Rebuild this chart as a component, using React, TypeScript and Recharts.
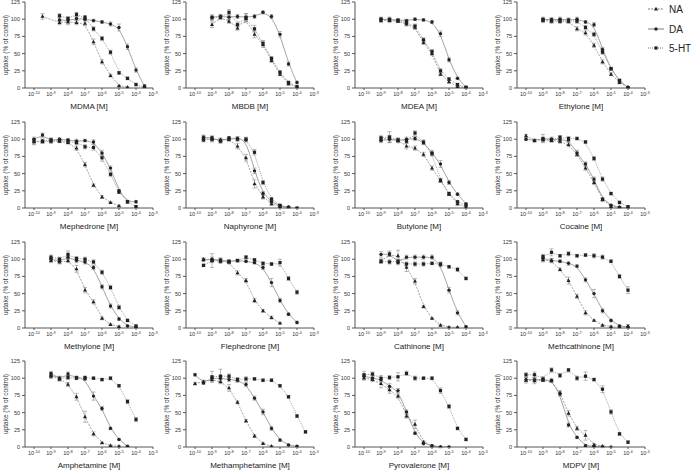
import React from 'react';
import { LineChart, Line, XAxis, YAxis, ErrorBar, Label } from 'recharts';

// [log10 concentration (M), uptake (% of control), SEM]
type Pt = [number, number, number];

const drugNames = [
  'MDMA', 'MBDB', 'MDEA', 'Ethylone',
  'Mephedrone', 'Naphyrone', 'Butylone', 'Cocaine',
  'Methylone', 'Flephedrone', 'Cathinone', 'Methcathinone',
  'Amphetamine', 'Methamphetamine', 'Pyrovalerone', 'MDPV',
];
const xTicks = [-10, -9, -8, -7, -6, -5, -4, -3];
const yTicks = [0, 25, 50, 75, 100, 125];
const seriesNames = ['NA', 'DA', '5-HT'];

const mdmaNA: Pt[] = [[-9.5, 104, 4], [-8.5, 95, 3], [-8, 96, 4], [-7.5, 95, 3], [-7, 94, 3], [-6.5, 67, 4], [-6, 38, 3], [-5.5, 18, 2], [-5, 3, 1], [-4.5, 1, 1]];
const mdmaDA: Pt[] = [[-8.5, 99, 3], [-8, 98, 4], [-7.5, 101, 3], [-7, 100, 2], [-6.5, 98, 2], [-6, 96, 2], [-5.5, 93, 3], [-5, 88, 5], [-4.5, 60, 4], [-4, 26, 3], [-3.5, 3, 2]];
const mdmaHT: Pt[] = [[-8.5, 105, 3], [-8, 101, 3], [-7.5, 107, 3], [-7, 103, 2], [-6.5, 86, 3], [-6, 72, 3], [-5.5, 52, 3], [-5, 22, 2], [-4.5, 14, 2], [-4, 5, 2], [-3.5, 1, 1]];

const mbdbNA: Pt[] = [[-9, 92, 4], [-8.5, 103, 3], [-8, 97, 3], [-7.5, 87, 3], [-7, 101, 4], [-6.5, 78, 5], [-6, 63, 4], [-5.5, 40, 3], [-5, 20, 2], [-4.5, 6, 2], [-4, 1, 1]];
const mbdbDA: Pt[] = [[-9, 103, 3], [-8.5, 104, 3], [-8, 103, 4], [-7.5, 104, 3], [-7, 103, 5], [-6.5, 104, 3], [-6, 110, 2], [-5.5, 104, 3], [-5, 78, 4], [-4.5, 35, 3], [-4, 8, 2]];
const mbdbHT: Pt[] = [[-9, 102, 4], [-8.5, 103, 3], [-8, 110, 4], [-7.5, 92, 3], [-7, 102, 6], [-6.5, 86, 5], [-6, 65, 4], [-5.5, 43, 3], [-5, 23, 2], [-4.5, 8, 2], [-4, 2, 1]];

const mdeaNA: Pt[] = [[-9, 98, 3], [-8.5, 98, 3], [-8, 97, 2], [-7.5, 93, 3], [-7, 88, 3], [-6.5, 66, 3], [-6, 50, 3], [-5.5, 20, 2], [-5, 9, 2], [-4.5, 2, 1], [-4, 0, 1]];
const mdeaDA: Pt[] = [[-9, 100, 2], [-8.5, 99, 2], [-8, 99, 2], [-7.5, 98, 2], [-7, 100, 2], [-6.5, 99, 2], [-6, 96, 2], [-5.5, 79, 4], [-5, 41, 3], [-4.5, 14, 2], [-4, 1, 1]];
const mdeaHT: Pt[] = [[-9, 100, 3], [-8.5, 100, 3], [-8, 98, 2], [-7.5, 95, 3], [-7, 90, 3], [-6.5, 70, 3], [-6, 53, 3], [-5.5, 25, 3], [-5, 13, 2], [-4.5, 5, 2], [-4, 1, 1]];

const ethNA: Pt[] = [[-9, 98, 3], [-8.5, 97, 3], [-8, 97, 3], [-7.5, 97, 3], [-7, 86, 3], [-6.5, 80, 3], [-6, 62, 3], [-5.5, 38, 3], [-5, 20, 2], [-4.5, 8, 2], [-4, 1, 1]];
const ethDA: Pt[] = [[-9, 100, 3], [-8.5, 99, 3], [-8, 100, 3], [-7.5, 99, 3], [-7, 100, 3], [-6.5, 96, 2], [-6, 92, 3], [-5.5, 56, 3], [-5, 28, 2], [-4.5, 10, 2], [-4, 1, 1]];
const ethHT: Pt[] = [[-9, 99, 3], [-8.5, 99, 3], [-8, 98, 3], [-7.5, 98, 3], [-7, 97, 3], [-6.5, 88, 3], [-6, 78, 3], [-5.5, 52, 3], [-5, 28, 2], [-4.5, 11, 2], [-4, 0, 1]];

const mephNA: Pt[] = [[-10, 96, 4], [-9.5, 97, 3], [-9, 97, 3], [-8.5, 97, 2], [-8, 95, 2], [-7.5, 87, 3], [-7, 63, 3], [-6.5, 33, 2], [-6, 16, 2], [-5.5, 8, 1], [-5, 3, 1]];
const mephDA: Pt[] = [[-10, 100, 3], [-9.5, 106, 3], [-9, 98, 3], [-8.5, 100, 2], [-8, 99, 2], [-7.5, 97, 3], [-7, 98, 2], [-6.5, 96, 3], [-6, 80, 4], [-5.5, 58, 3], [-5, 25, 2], [-4.5, 9, 2], [-4, 9, 2]];
const mephHT: Pt[] = [[-10, 97, 4], [-9.5, 97, 3], [-9, 99, 3], [-8.5, 98, 2], [-8, 97, 2], [-7.5, 95, 3], [-7, 89, 3], [-6.5, 88, 4], [-6, 73, 5], [-5.5, 49, 3], [-5, 23, 2], [-4.5, 9, 2], [-4, 2, 1]];

const naphNA: Pt[] = [[-9.5, 101, 4], [-9, 100, 4], [-8.5, 99, 3], [-8, 100, 3], [-7.5, 90, 4], [-7, 73, 5], [-6.5, 35, 6], [-6, 16, 3], [-5.5, 6, 2], [-5, 2, 1], [-4.5, 1, 1]];
const naphDA: Pt[] = [[-9.5, 103, 3], [-9, 102, 3], [-8.5, 97, 3], [-8, 102, 2], [-7.5, 101, 3], [-7, 99, 3], [-6.5, 54, 4], [-6, 21, 3], [-5.5, 9, 2], [-5, 3, 1], [-4.5, 1, 1]];
const naphHT: Pt[] = [[-9.5, 99, 3], [-9, 100, 3], [-8.5, 98, 3], [-8, 100, 2], [-7.5, 100, 3], [-7, 100, 3], [-6.5, 81, 4], [-6, 37, 3], [-5.5, 13, 2], [-5, 4, 1], [-4.5, 1, 1], [-4, 0, 1]];

const butNA: Pt[] = [[-9, 100, 3], [-8.5, 101, 4], [-8, 98, 3], [-7.5, 90, 4], [-7, 87, 3], [-6.5, 78, 3], [-6, 58, 3], [-5.5, 40, 3], [-5, 20, 2], [-4.5, 6, 2], [-4, 1, 1]];
const butDA: Pt[] = [[-9, 98, 3], [-8.5, 100, 5], [-8, 98, 3], [-7.5, 100, 3], [-7, 101, 3], [-6.5, 96, 3], [-6, 80, 4], [-5.5, 64, 5], [-5, 37, 3], [-4.5, 20, 2], [-4, 6, 2]];
const butHT: Pt[] = [[-9, 102, 3], [-8.5, 103, 8], [-8, 99, 3], [-7.5, 97, 3], [-7, 109, 3], [-6.5, 95, 3], [-6, 79, 3], [-5.5, 40, 3], [-5, 21, 2], [-4.5, 9, 2], [-4, 4, 1]];

const cocNA: Pt[] = [[-10, 105, 2], [-9.5, 98, 2], [-9, 99, 3], [-8.5, 98, 2], [-8, 97, 3], [-7.5, 92, 3], [-7, 78, 3], [-6.5, 58, 3], [-6, 37, 3], [-5.5, 12, 2], [-5, 2, 1], [-4.5, 1, 1]];
const cocDA: Pt[] = [[-10, 100, 2], [-9.5, 98, 2], [-9, 101, 6], [-8.5, 100, 3], [-8, 99, 3], [-7.5, 99, 3], [-7, 80, 4], [-6.5, 64, 3], [-6, 42, 3], [-5.5, 13, 2], [-5, 4, 1], [-4.5, 1, 1], [-4, 0, 1]];
const cocHT: Pt[] = [[-9, 100, 3], [-8.5, 99, 3], [-8, 103, 2], [-7.5, 101, 3], [-7, 101, 2], [-6.5, 96, 2], [-6, 72, 3], [-5.5, 42, 3], [-5, 21, 2], [-4.5, 8, 2], [-4, 2, 1]];

const mthNA: Pt[] = [[-9, 98, 3], [-8.5, 96, 3], [-8, 98, 3], [-7.5, 86, 5], [-7, 55, 4], [-6.5, 38, 3], [-6, 14, 2], [-5.5, 5, 1], [-5, 2, 1]];
const mthDA: Pt[] = [[-9, 100, 3], [-8.5, 97, 3], [-8, 103, 4], [-7.5, 98, 3], [-7, 96, 3], [-6.5, 88, 3], [-6, 60, 3], [-5.5, 32, 3], [-5, 13, 2], [-4.5, 3, 1], [-4, 1, 1]];
const mthHT: Pt[] = [[-9, 103, 3], [-8.5, 100, 3], [-8, 107, 5], [-7.5, 101, 3], [-7, 100, 3], [-6.5, 96, 3], [-6, 81, 3], [-5.5, 59, 3], [-5, 30, 3], [-4.5, 11, 2], [-4, 3, 1]];

const flpNA: Pt[] = [[-9.5, 100, 2], [-9, 98, 3], [-8.5, 98, 3], [-8, 96, 3], [-7.5, 80, 3], [-7, 69, 3], [-6.5, 40, 3], [-6, 25, 2], [-5.5, 15, 2], [-5, 7, 1]];
const flpDA: Pt[] = [[-9.5, 99, 2], [-9, 100, 3], [-8.5, 99, 3], [-8, 97, 2], [-7.5, 98, 2], [-7, 97, 2], [-6.5, 95, 2], [-6, 88, 3], [-5.5, 66, 6], [-5, 40, 3], [-4.5, 20, 2], [-4, 8, 2]];
const flpHT: Pt[] = [[-9.5, 91, 2], [-9, 98, 10], [-8.5, 97, 3], [-8, 96, 2], [-7.5, 98, 2], [-7, 103, 2], [-6.5, 99, 2], [-6, 94, 2], [-5.5, 93, 2], [-5, 95, 5], [-4.5, 72, 3], [-4, 52, 3]];

const cthNA: Pt[] = [[-9, 97, 3], [-8.5, 107, 3], [-8, 105, 8], [-7.5, 88, 6], [-7, 68, 4], [-6.5, 31, 2], [-6, 14, 1], [-5.5, 4, 1], [-5, 1, 1], [-4.5, 1, 1]];
const cthDA: Pt[] = [[-9, 107, 4], [-8.5, 108, 4], [-8, 95, 3], [-7.5, 103, 3], [-7, 103, 3], [-6.5, 103, 3], [-6, 103, 3], [-5.5, 92, 3], [-5, 55, 4], [-4.5, 22, 3], [-4, 2, 1]];
const cthHT: Pt[] = [[-9, 97, 3], [-8.5, 96, 3], [-8, 97, 3], [-7.5, 93, 3], [-7, 93, 3], [-6.5, 93, 3], [-6, 94, 2], [-5.5, 93, 3], [-5, 89, 2], [-4.5, 85, 3], [-4, 72, 2]];

const mcaNA: Pt[] = [[-9, 99, 3], [-8.5, 98, 3], [-8, 85, 2], [-7.5, 69, 5], [-7, 46, 3], [-6.5, 22, 3], [-6, 11, 1], [-5.5, 4, 1], [-5, 2, 1], [-4.5, 1, 1], [-4, 3, 2]];
const mcaDA: Pt[] = [[-9, 101, 3], [-8.5, 98, 3], [-8, 97, 2], [-7.5, 94, 3], [-7, 90, 2], [-6.5, 70, 3], [-6, 50, 6], [-5.5, 25, 3], [-5, 11, 2], [-4.5, 3, 1], [-4, 1, 1]];
const mcaHT: Pt[] = [[-9, 104, 3], [-8.5, 110, 5], [-8, 105, 2], [-7.5, 108, 3], [-7, 105, 2], [-6.5, 106, 2], [-6, 105, 3], [-5.5, 103, 3], [-5, 97, 2], [-4.5, 75, 3], [-4, 55, 5]];

const ampNA: Pt[] = [[-9, 104, 4], [-8.5, 100, 3], [-8, 91, 3], [-7.5, 73, 5], [-7, 44, 8], [-6.5, 19, 3], [-6, 6, 1], [-5.5, 2, 1], [-5, 1, 1]];
const ampDA: Pt[] = [[-9, 107, 3], [-8.5, 99, 3], [-8, 106, 3], [-7.5, 101, 2], [-7, 99, 2], [-6.5, 74, 6], [-6, 56, 3], [-5.5, 27, 2], [-5, 11, 1], [-4.5, 1, 1]];
const ampHT: Pt[] = [[-9, 103, 3], [-8.5, 99, 3], [-8, 101, 3], [-7.5, 100, 2], [-7, 101, 2], [-6.5, 100, 2], [-6, 98, 2], [-5.5, 100, 2], [-5, 89, 2], [-4.5, 66, 3], [-4, 40, 3]];

const methNA: Pt[] = [[-10, 92, 2], [-9.5, 95, 2], [-9, 98, 3], [-8.5, 95, 3], [-8, 86, 5], [-7.5, 65, 2], [-7, 38, 2], [-6.5, 16, 2], [-6, 5, 1], [-5.5, 1, 1]];
const methDA: Pt[] = [[-10, 105, 2], [-9.5, 93, 2], [-9, 100, 3], [-8.5, 100, 4], [-8, 98, 3], [-7.5, 97, 3], [-7, 91, 3], [-6.5, 71, 3], [-6, 51, 4], [-5.5, 27, 3], [-5, 10, 2], [-4.5, 3, 1], [-4, 1, 1]];
const methHT: Pt[] = [[-9, 102, 8], [-8.5, 103, 10], [-8, 103, 3], [-7.5, 98, 3], [-7, 99, 3], [-6.5, 99, 2], [-6, 97, 2], [-5.5, 97, 2], [-5, 89, 2], [-4.5, 73, 2], [-4, 45, 2], [-3.5, 22, 2]];

const pyrNA: Pt[] = [[-10, 100, 3], [-9.5, 98, 3], [-9, 92, 6], [-8.5, 83, 5], [-8, 74, 3], [-7.5, 45, 3], [-7, 33, 6], [-6.5, 7, 2], [-6, 1, 1], [-5.5, 0, 1]];
const pyrDA: Pt[] = [[-10, 103, 3], [-9.5, 100, 3], [-9, 98, 3], [-8.5, 88, 4], [-8, 82, 3], [-7.5, 51, 3], [-7, 20, 2], [-6.5, 5, 2], [-6, 2, 1], [-5.5, 0, 1], [-5, 0, 1]];
const pyrHT: Pt[] = [[-10, 105, 5], [-9.5, 106, 3], [-9, 100, 4], [-8.5, 101, 3], [-8, 102, 6], [-7.5, 107, 3], [-7, 100, 3], [-6.5, 100, 2], [-6, 100, 2], [-5.5, 82, 4], [-5, 59, 3], [-4.5, 27, 2], [-4, 11, 2]];

const mdpvNA: Pt[] = [[-10, 97, 4], [-9.5, 96, 4], [-9, 97, 2], [-8.5, 96, 2], [-8, 79, 3], [-7.5, 49, 4], [-7, 27, 3], [-6.5, 17, 7], [-6, 3, 2], [-5.5, 1, 1], [-5, 0, 1]];
const mdpvDA: Pt[] = [[-10, 98, 3], [-9.5, 98, 3], [-9, 98, 2], [-8.5, 97, 2], [-8, 77, 3], [-7.5, 32, 3], [-7, 14, 2], [-6.5, 2, 1], [-6, 1, 1], [-5.5, 0, 1]];
const mdpvHT: Pt[] = [[-10, 105, 3], [-9.5, 105, 4], [-9, 99, 3], [-8.5, 112, 3], [-8, 104, 3], [-7.5, 112, 2], [-7, 100, 3], [-6.5, 103, 6], [-6, 98, 2], [-5.5, 84, 5], [-5, 51, 3], [-4.5, 19, 2], [-4, 7, 2]];

const panelSeries: Pt[][][] = [
  [mdmaNA, mdmaDA, mdmaHT], [mbdbNA, mbdbDA, mbdbHT], [mdeaNA, mdeaDA, mdeaHT], [ethNA, ethDA, ethHT],
  [mephNA, mephDA, mephHT], [naphNA, naphDA, naphHT], [butNA, butDA, butHT], [cocNA, cocDA, cocHT],
  [mthNA, mthDA, mthHT], [flpNA, flpDA, flpHT], [cthNA, cthDA, cthHT], [mcaNA, mcaDA, mcaHT],
  [ampNA, ampDA, ampHT], [methNA, methDA, methHT], [pyrNA, pyrDA, pyrHT], [mdpvNA, mdpvDA, mdpvHT],
];

const colLeft = [0, 161, 330, 492];
const rowTop = [0, 120, 240, 359];
const markKinds = ['tri', 'circ', 'sq'];
const dashes = ['2 1.2', undefined, '1 1'];
const INK = '#222';
const CURVE = '#8a8a8a';

const Mark = ({ kind, cx, cy }: { kind: string; cx?: number; cy?: number }) => {
  if (cx == null || cy == null) return <g />;
  if (kind === 'tri') {
    return <polygon points={`${cx},${cy - 2.2} ${cx - 2},${cy + 1.4} ${cx + 2},${cy + 1.4}`} fill={INK} />;
  }
  if (kind === 'circ') return <circle cx={cx} cy={cy} r={1.7} fill={INK} />;
  return <rect x={cx - 1.6} y={cy - 1.6} width={3.2} height={3.2} fill={INK} />;
};

const XTick = (props: any) => {
  const { x, y, payload } = props;
  return (
    <text x={x} y={y + 4} textAnchor="middle" fontSize={5.5} fill="#333">
      10<tspan dy={-2.2} fontSize={4}>{payload.value}</tspan>
    </text>
  );
};

const YTitle = () => (
  <text transform="translate(7.5,45) rotate(-90)" textAnchor="middle" fontSize={6.5} fill="#333">
    uptake (% of control)
  </text>
);

const Panel = ({ idx }: { idx: number }) => {
  const series = panelSeries[idx];
  return (
    <LineChart width={161} height={113} margin={{ top: 2, right: 8, bottom: 0, left: 0 }}>
      <XAxis
        type="number"
        dataKey="x"
        domain={[-10.53, -3]}
        ticks={xTicks}
        interval={0}
        allowDataOverflow
        height={25}
        tickSize={2}
        tick={<XTick />}
        stroke="#555"
      >
        <Label value={`${drugNames[idx]} [M]`} position="insideBottom" offset={4} fontSize={8} fill={INK} />
      </XAxis>
      <YAxis
        type="number"
        domain={[0, 125]}
        ticks={yTicks}
        interval={0}
        allowDataOverflow
        width={25}
        tickSize={3}
        tick={{ fontSize: 5.5, fill: '#333' }}
        stroke="#555"
      >
        <Label content={<YTitle />} />
      </YAxis>
      {series.map((pts, s) => (
        <Line
          key={seriesNames[s]}
          name={seriesNames[s]}
          data={pts.map(([x, y, e]) => ({ x, y, e }))}
          dataKey="y"
          type="basis"
          stroke={CURVE}
          strokeWidth={0.8}
          strokeDasharray={dashes[s]}
          dot={(p: any) => <Mark key={`${s}-${p.index}`} kind={markKinds[s]} cx={p.cx} cy={p.cy} />}
          activeDot={false}
          isAnimationActive={false}
        >
          <ErrorBar dataKey="e" direction="y" width={2} strokeWidth={0.5} stroke="#777" />
        </Line>
      ))}
    </LineChart>
  );
};

const LegendBox = () => (
  <svg width={53} height={60} style={{ position: 'absolute', left: 640, top: 0 }}>
    {seriesNames.map((n, i) => {
      const cy = [9, 29, 48][i];
      return (
        <g key={n}>
          <line x1={8} x2={24} y1={cy} y2={cy} stroke="#555" strokeWidth={0.8} strokeDasharray={dashes[i]} />
          <Mark kind={markKinds[i]} cx={16} cy={cy} />
          <text x={29} y={cy} dominantBaseline="central" fontSize={10} fill={INK}>{n}</text>
        </g>
      );
    })}
  </svg>
);

export default function App() {
  return (
    <div
      style={{
        position: 'absolute',
        left: 0,
        top: 0,
        width: 693,
        height: 473,
        overflow: 'hidden',
        background: '#fff',
        fontFamily: '"Liberation Sans", Arial, sans-serif',
      }}
    >
      {drugNames.map((d, i) => (
        <div key={d} style={{ position: 'absolute', left: colLeft[i % 4], top: rowTop[Math.floor(i / 4)] }}>
          <Panel idx={i} />
        </div>
      ))}
      <LegendBox />
    </div>
  );
}
